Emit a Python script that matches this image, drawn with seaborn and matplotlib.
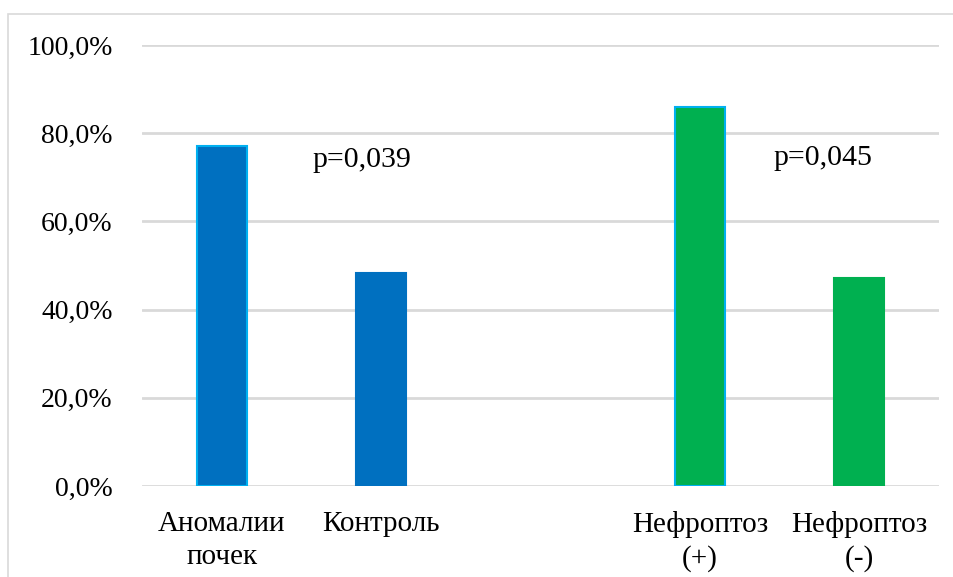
import matplotlib
matplotlib.use("Agg")
import matplotlib.pyplot as plt
from matplotlib.patches import Rectangle
from matplotlib.ticker import FuncFormatter, MultipleLocator
import seaborn as sns
import pandas as pd

# Share of patients per group (fraction); the blank slot separates the two comparisons
categories = ["Аномалии\nпочек", "Контроль", " ", "Нефроптоз\n(+)", "Нефроптоз\n(-)"]
values = [0.772, 0.482, None, 0.860, 0.471]
fill_colors = ["#0070C0", "#0070C0", "#FFFFFF", "#00B050", "#00B050"]
edge_colors = ["#00B0F0", "#0070C0", "#FFFFFF", "#00B0F0", "#00B050"]
p_labels = ["p=0,039", "p=0,045"]
p_positions = [(0.88, 0.739), (3.77, 0.744)]

sns.set_theme(style="white")
plt.rcParams["font.family"] = ["Liberation Serif", "DejaVu Serif"]

df = pd.DataFrame({"group": categories, "share": values})
df_plot = df.dropna()

fig = plt.figure(figsize=(9.54, 5.77), dpi=100)
ax = fig.add_axes([142 / 954, 1 - 486 / 577, 797 / 954, 441 / 577])

sns.barplot(data=df_plot, x="group", y="share", order=categories,
            hue="group", hue_order=categories, palette=fill_colors,
            saturation=1, width=0.315, legend=False, ax=ax, zorder=3)

for patch in ax.patches:
    if patch.get_height() <= 0:
        continue
    x_center = patch.get_x() + patch.get_width() / 2
    idx = int(round(x_center))
    patch.set_edgecolor(edge_colors[idx])
    patch.set_linewidth(1.5)

ax.set_ylim(0, 1.0)
ax.yaxis.set_major_locator(MultipleLocator(0.2))
ax.yaxis.set_major_formatter(FuncFormatter(lambda v, _: f"{v * 100:.1f}%".replace(".", ",")))
ax.grid(axis="y", color="#D9D9D9", linewidth=2, zorder=0)
ax.set_axisbelow(True)
for side in ["top", "right", "left", "bottom"]:
    ax.spines[side].set_visible(False)
ax.set_xlabel("")
ax.set_ylabel("")
ax.tick_params(axis="y", labelsize=20, colors="black", length=0, pad=21)
ax.tick_params(axis="x", labelsize=21, colors="black", length=0, pad=18)
for lbl in ax.get_xticklabels():
    lbl.set_linespacing(1.35)
ax.set_xlim(-0.5, 4.5)

for text, (px, py) in zip(p_labels, p_positions):
    ax.text(px, py, text, ha="center", va="center", fontsize=21.5, color="black")

# outer chart frame
fig.patches.append(Rectangle((8.5 / 954, -0.1), 1.2, 1 - 13.5 / 577 + 0.1,
                             transform=fig.transFigure, fill=False,
                             edgecolor="#D9D9D9", linewidth=1.2))

fig.savefig("out.png", dpi=100, facecolor="white")
